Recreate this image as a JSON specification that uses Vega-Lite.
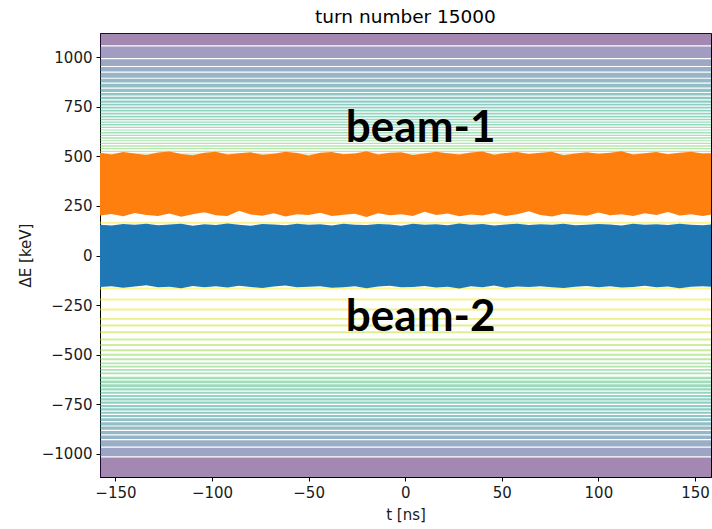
{
  "$schema": "https://vega.github.io/schema/vega-lite/v6.json",
  "width": 611,
  "height": 444,
  "autosize": {"type": "none"},
  "padding": {"left": 100, "top": 33, "right": 1, "bottom": 52},
  "background": "white",
  "title": {"text": "turn number 15000", "font": "DejaVu Sans", "fontSize": 18.5, "fontWeight": "normal", "color": "#000", "offset": 7},
  "config": {
    "view": {"stroke": "#000", "strokeWidth": 1},
    "axis": {
      "grid": false,
      "labelFont": "DejaVu Sans", "labelFontSize": 15, "labelColor": "#1a1a1a",
      "titleFont": "DejaVu Sans", "titleFontSize": 15, "titleFontWeight": "normal", "titleColor": "#1a1a1a",
      "tickColor": "#000", "tickSize": 4, "tickWidth": 1,
      "domainColor": "#000", "domainWidth": 1, "labelPadding": 4
    }
  },
  "datasets": {
    "stripes": [
      {"lo": 1060, "hi": 1130, "lev": 1095},
      {"lo": 996, "hi": 1054, "lev": 1025},
      {"lo": 956, "hi": 990, "lev": 973},
      {"lo": 928, "hi": 950, "lev": 939},
      {"lo": 897, "hi": 922, "lev": 910},
      {"lo": 872, "hi": 891, "lev": 882},
      {"lo": 847, "hi": 866, "lev": 857},
      {"lo": 825, "hi": 841, "lev": 833},
      {"lo": 807, "hi": 819, "lev": 813},
      {"lo": 788, "hi": 801, "lev": 795},
      {"lo": 771, "hi": 782, "lev": 777},
      {"lo": 756, "hi": 765, "lev": 761},
      {"lo": 741, "hi": 750, "lev": 746},
      {"lo": 726, "hi": 735, "lev": 731},
      {"lo": 711, "hi": 720, "lev": 716},
      {"lo": 696, "hi": 705, "lev": 701},
      {"lo": 682, "hi": 690, "lev": 686},
      {"lo": 669, "hi": 676, "lev": 673},
      {"lo": 656, "hi": 663, "lev": 660},
      {"lo": 643, "hi": 650, "lev": 647},
      {"lo": 630, "hi": 636, "lev": 633},
      {"lo": 616, "hi": 623, "lev": 620},
      {"lo": 603, "hi": 609, "lev": 606},
      {"lo": 589, "hi": 596, "lev": 593},
      {"lo": 576, "hi": 582, "lev": 579},
      {"lo": 563, "hi": 569, "lev": 566},
      {"lo": 549, "hi": 556, "lev": 553},
      {"lo": 536, "hi": 542, "lev": 539},
      {"lo": 522, "hi": 528, "lev": 525},
      {"lo": 509, "hi": 515, "lev": 512},
      {"lo": 161, "hi": 171, "lev": 166},
      {"lo": -171, "hi": -161, "lev": 166},
      {"lo": -226, "hi": -216, "lev": 221},
      {"lo": -277, "hi": -267, "lev": 272},
      {"lo": -324, "hi": -314, "lev": 319},
      {"lo": -357, "hi": -347, "lev": 352},
      {"lo": -391, "hi": -381, "lev": 386},
      {"lo": -428, "hi": -418, "lev": 423},
      {"lo": -456, "hi": -446, "lev": 451},
      {"lo": -482, "hi": -472, "lev": 477},
      {"lo": -505, "hi": -495, "lev": 500},
      {"lo": -528, "hi": -518, "lev": 523},
      {"lo": -548, "hi": -539, "lev": 544},
      {"lo": -564, "hi": -555, "lev": 560},
      {"lo": -581, "hi": -572, "lev": 577},
      {"lo": -598, "hi": -589, "lev": 594},
      {"lo": -623, "hi": -611, "lev": 617},
      {"lo": -643, "hi": -630, "lev": 636},
      {"lo": -663, "hi": -649, "lev": 656},
      {"lo": -680, "hi": -669, "lev": 674},
      {"lo": -697, "hi": -686, "lev": 691},
      {"lo": -713, "hi": -703, "lev": 708},
      {"lo": -730, "hi": -719, "lev": 724},
      {"lo": -747, "hi": -736, "lev": 741},
      {"lo": -764, "hi": -753, "lev": 758},
      {"lo": -781, "hi": -770, "lev": 775},
      {"lo": -797, "hi": -787, "lev": 792},
      {"lo": -814, "hi": -803, "lev": 808},
      {"lo": -834, "hi": -820, "lev": 827},
      {"lo": -856, "hi": -840, "lev": 848},
      {"lo": -878, "hi": -862, "lev": 870},
      {"lo": -901, "hi": -884, "lev": 892},
      {"lo": -925, "hi": -907, "lev": 916},
      {"lo": -962, "hi": -931, "lev": 946},
      {"lo": -1012, "hi": -968, "lev": 990},
      {"lo": -1130, "hi": -1018, "lev": 1095}
    ],
    "beams": [
      {"t": -158, "o_hi": 518, "o_lo": 202, "b_hi": 156, "b_lo": -158},
      {"t": -152, "o_hi": 509, "o_lo": 210, "b_hi": 152, "b_lo": -154},
      {"t": -146, "o_hi": 522, "o_lo": 198, "b_hi": 159, "b_lo": -162},
      {"t": -140, "o_hi": 514, "o_lo": 215, "b_hi": 155, "b_lo": -156},
      {"t": -134, "o_hi": 507, "o_lo": 205, "b_hi": 161, "b_lo": -150},
      {"t": -128, "o_hi": 520, "o_lo": 200, "b_hi": 153, "b_lo": -160},
      {"t": -122, "o_hi": 525, "o_lo": 212, "b_hi": 157, "b_lo": -157},
      {"t": -116, "o_hi": 512, "o_lo": 196, "b_hi": 160, "b_lo": -165},
      {"t": -110, "o_hi": 506, "o_lo": 208, "b_hi": 151, "b_lo": -153},
      {"t": -104, "o_hi": 519, "o_lo": 218, "b_hi": 158, "b_lo": -159},
      {"t": -98, "o_hi": 523, "o_lo": 203, "b_hi": 154, "b_lo": -155},
      {"t": -92, "o_hi": 510, "o_lo": 199, "b_hi": 162, "b_lo": -161},
      {"t": -86, "o_hi": 516, "o_lo": 226, "b_hi": 156, "b_lo": -152},
      {"t": -80, "o_hi": 521, "o_lo": 207, "b_hi": 150, "b_lo": -158},
      {"t": -74, "o_hi": 508, "o_lo": 201, "b_hi": 159, "b_lo": -163},
      {"t": -68, "o_hi": 513, "o_lo": 213, "b_hi": 157, "b_lo": -156},
      {"t": -62, "o_hi": 524, "o_lo": 197, "b_hi": 153, "b_lo": -151},
      {"t": -56, "o_hi": 517, "o_lo": 209, "b_hi": 160, "b_lo": -160},
      {"t": -50, "o_hi": 505, "o_lo": 204, "b_hi": 155, "b_lo": -157},
      {"t": -44, "o_hi": 519, "o_lo": 216, "b_hi": 158, "b_lo": -154},
      {"t": -38, "o_hi": 522, "o_lo": 200, "b_hi": 152, "b_lo": -162},
      {"t": -32, "o_hi": 511, "o_lo": 206, "b_hi": 161, "b_lo": -159},
      {"t": -26, "o_hi": 515, "o_lo": 211, "b_hi": 156, "b_lo": -155},
      {"t": -20, "o_hi": 526, "o_lo": 195, "b_hi": 154, "b_lo": -164},
      {"t": -14, "o_hi": 509, "o_lo": 214, "b_hi": 159, "b_lo": -156},
      {"t": -8, "o_hi": 518, "o_lo": 203, "b_hi": 157, "b_lo": -152},
      {"t": -2, "o_hi": 521, "o_lo": 208, "b_hi": 151, "b_lo": -160},
      {"t": 4, "o_hi": 507, "o_lo": 199, "b_hi": 160, "b_lo": -158},
      {"t": 10, "o_hi": 514, "o_lo": 221, "b_hi": 155, "b_lo": -153},
      {"t": 16, "o_hi": 523, "o_lo": 205, "b_hi": 158, "b_lo": -161},
      {"t": 22, "o_hi": 516, "o_lo": 212, "b_hi": 153, "b_lo": -157},
      {"t": 28, "o_hi": 510, "o_lo": 198, "b_hi": 162, "b_lo": -166},
      {"t": 34, "o_hi": 520, "o_lo": 207, "b_hi": 156, "b_lo": -155},
      {"t": 40, "o_hi": 525, "o_lo": 202, "b_hi": 159, "b_lo": -159},
      {"t": 46, "o_hi": 508, "o_lo": 215, "b_hi": 152, "b_lo": -151},
      {"t": 52, "o_hi": 517, "o_lo": 200, "b_hi": 157, "b_lo": -162},
      {"t": 58, "o_hi": 522, "o_lo": 209, "b_hi": 160, "b_lo": -156},
      {"t": 64, "o_hi": 512, "o_lo": 224, "b_hi": 154, "b_lo": -158},
      {"t": 70, "o_hi": 519, "o_lo": 204, "b_hi": 158, "b_lo": -154},
      {"t": 76, "o_hi": 524, "o_lo": 197, "b_hi": 155, "b_lo": -160},
      {"t": 82, "o_hi": 506, "o_lo": 211, "b_hi": 161, "b_lo": -163},
      {"t": 88, "o_hi": 515, "o_lo": 206, "b_hi": 153, "b_lo": -157},
      {"t": 94, "o_hi": 521, "o_lo": 201, "b_hi": 156, "b_lo": -153},
      {"t": 100, "o_hi": 513, "o_lo": 217, "b_hi": 159, "b_lo": -159},
      {"t": 106, "o_hi": 518, "o_lo": 203, "b_hi": 157, "b_lo": -155},
      {"t": 112, "o_hi": 526, "o_lo": 209, "b_hi": 152, "b_lo": -161},
      {"t": 118, "o_hi": 509, "o_lo": 199, "b_hi": 160, "b_lo": -158},
      {"t": 124, "o_hi": 516, "o_lo": 213, "b_hi": 155, "b_lo": -152},
      {"t": 130, "o_hi": 522, "o_lo": 205, "b_hi": 158, "b_lo": -160},
      {"t": 136, "o_hi": 511, "o_lo": 220, "b_hi": 154, "b_lo": -156},
      {"t": 142, "o_hi": 519, "o_lo": 202, "b_hi": 161, "b_lo": -164},
      {"t": 148, "o_hi": 523, "o_lo": 208, "b_hi": 156, "b_lo": -157},
      {"t": 154, "o_hi": 514, "o_lo": 200, "b_hi": 153, "b_lo": -154},
      {"t": 160, "o_hi": 517, "o_lo": 210, "b_hi": 158, "b_lo": -159}
    ],
    "labels": [
      {"t": 8, "E": 575, "label": "beam-1"},
      {"t": 8, "E": -381, "label": "beam-2"}
    ]
  },
  "layer": [
    {
      "data": {"name": "stripes"},
      "mark": {"type": "rect", "opacity": 0.5, "clip": true},
      "encoding": {
        "y": {"field": "lo", "type": "quantitative", "scale": {"domain": [-1116, 1122], "nice": false, "zero": false},
              "axis": {"values": [-1000, -750, -500, -250, 0, 250, 500, 750, 1000], "format": "d", "title": "ΔE [keV]", "titlePadding": 8}},
        "y2": {"field": "hi"},
        "color": {"field": "lev", "type": "quantitative", "scale": {"type": "pow", "exponent": 2, "scheme": "viridis", "reverse": true, "domain": [160, 1120]}, "legend": null}
      }
    },
    {
      "data": {"name": "beams"},
      "mark": {"type": "area", "color": "#ff7f0e", "clip": true, "opacity": 1},
      "encoding": {
        "x": {"field": "t", "type": "quantitative", "scale": {"domain": [-158, 158.3], "nice": false, "zero": false},
              "axis": {"values": [-150, -100, -50, 0, 50, 100, 150], "format": "d", "title": "t [ns]", "titlePadding": 7}},
        "y": {"field": "o_hi", "type": "quantitative"},
        "y2": {"field": "o_lo"}
      }
    },
    {
      "data": {"name": "beams"},
      "mark": {"type": "area", "color": "#1f77b4", "clip": true, "opacity": 1},
      "encoding": {
        "x": {"field": "t", "type": "quantitative"},
        "y": {"field": "b_hi", "type": "quantitative"},
        "y2": {"field": "b_lo"}
      }
    },
    {
      "data": {"name": "labels"},
      "mark": {"type": "text", "font": "Lato", "fontWeight": "bold", "fontSize": 44, "color": "#000", "align": "center", "baseline": "alphabetic"},
      "encoding": {
        "x": {"field": "t", "type": "quantitative"},
        "y": {"field": "E", "type": "quantitative"},
        "text": {"field": "label"}
      }
    }
  ]
}
